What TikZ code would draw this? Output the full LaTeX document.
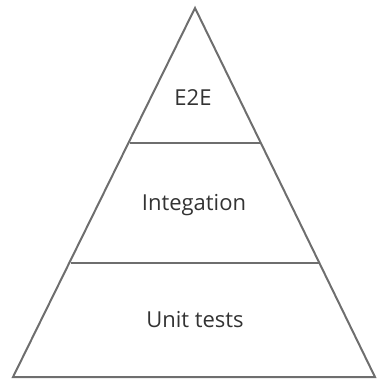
\documentclass[tikz,border=0pt]{standalone}
\usepackage{fontspec}
\setmainfont{Open Sans}
\definecolor{edge}{HTML}{6E6E6E}
\definecolor{txt}{HTML}{333333}
\begin{document}
\begin{tikzpicture}[x=1pt,y=-1pt,
  outline/.style={draw=edge,line width=2pt,line join=miter},
  label/.style={anchor=base,text=txt,font=\fontsize{22}{26}\selectfont,inner sep=0pt}]
\useasboundingbox (0,0) rectangle (376,380);
\coordinate (apex) at (195,8);
\coordinate (bl) at (13,377);
\coordinate (br) at (375,377);
\coordinate (l1) at (129.5,143);
\coordinate (r1) at (260.5,143);
\coordinate (l2) at (70.5,263);
\coordinate (r2) at (319.5,263);
\draw[outline] (apex) -- (bl) -- (br) -- cycle;
\draw[outline] (l1) -- (r1);
\draw[outline] (l2) -- (r2);
\node[label] (e2e) at (193,105) {E2E};
\node[label] (integ) at (194,210) {Integation};
\node[label] (unit) at (195,327) {Unit tests};
\end{tikzpicture}
\end{document}
